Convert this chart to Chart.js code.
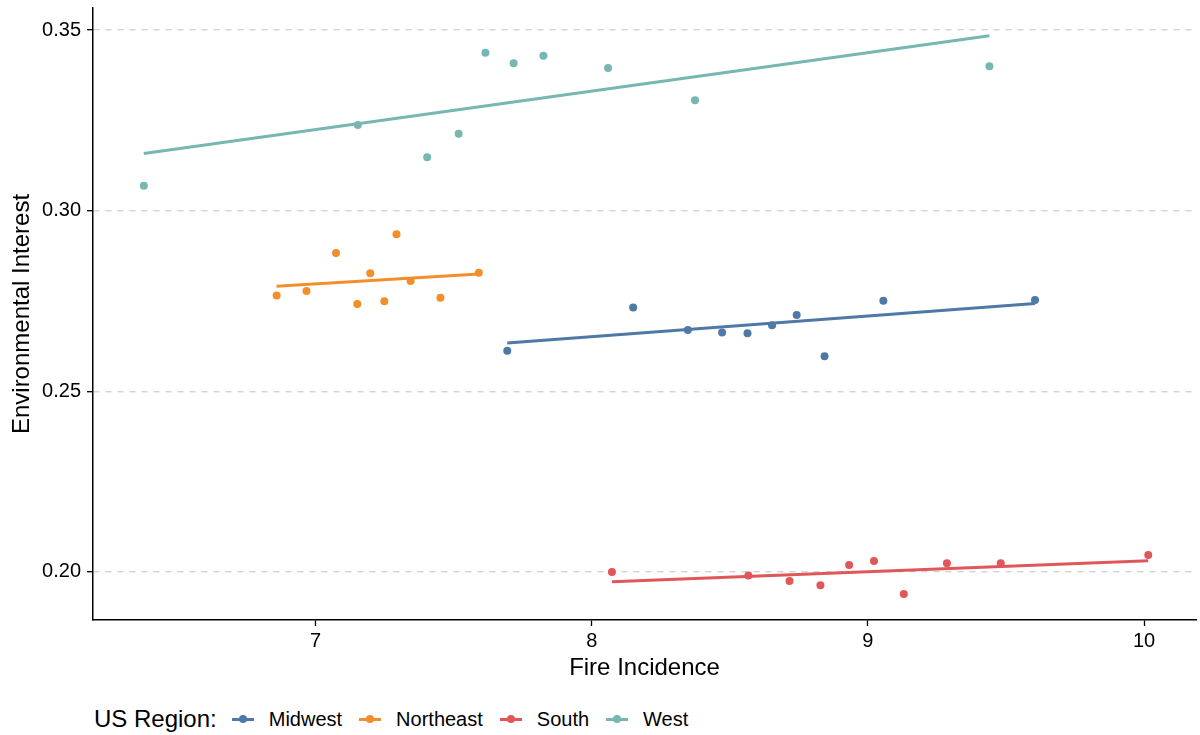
<!DOCTYPE html>
<html>
<head>
<meta charset="utf-8">
<script src="https://cdn.jsdelivr.net/npm/chart.js@4.4.1/dist/chart.umd.min.js"></script>
<style>
  html, body { margin:0; padding:0; background:#fff; }
  body { width:1200px; height:735px; position:relative; overflow:hidden; font-family:"Liberation Sans", Arial, sans-serif; }
  #wrap { position:absolute; left:0; top:0; width:1200px; height:695px; }
  #legend { position:absolute; left:94px; top:704px; height:30px; display:flex; align-items:center; color:#000; }
  #legend .title { font-size:24px; margin-right:15px; }
  #legend .item { display:flex; align-items:center; margin-right:17px; font-size:20px; }
  #legend .key { position:relative; width:22px; height:3px; margin-right:15px; }
  #legend .key::after { content:''; position:absolute; left:7px; top:-2.5px; width:8px; height:8px; border-radius:50%; background:inherit; }
</style>
</head>
<body>
<div id="wrap"><canvas id="chart"></canvas></div>
<div id="legend"></div>
<script>
// ---- data ----
const regions = ['Midwest', 'Northeast', 'South', 'West'];
const colors = ['#4E79A7', '#F28E2B', '#E15759', '#76B7B2'];

const midwestX = [7.694, 8.150, 8.348, 8.472, 8.564, 8.653, 8.742, 8.843, 9.056, 9.605];
const midwestY = [0.2612, 0.2732, 0.2670, 0.2663, 0.2661, 0.2683, 0.2711, 0.2597, 0.2751, 0.2753];
const midwestFitX = [7.694, 9.605];
const midwestFitY = [0.2634, 0.2743];

const northeastX = [6.859, 6.967, 7.074, 7.151, 7.198, 7.249, 7.293, 7.344, 7.452, 7.591];
const northeastY = [0.2765, 0.2778, 0.2883, 0.2742, 0.2827, 0.2749, 0.2935, 0.2805, 0.2759, 0.2828];
const northeastFitX = [6.859, 7.591];
const northeastFitY = [0.2791, 0.2825];

const southX = [8.073, 8.567, 8.716, 8.828, 8.932, 9.022, 9.130, 9.286, 9.481, 10.015];
const southY = [0.2000, 0.1990, 0.1975, 0.1963, 0.2019, 0.2030, 0.1939, 0.2024, 0.2024, 0.2047];
const southFitX = [8.073, 10.015];
const southFitY = [0.1973, 0.2031];

const westX = [6.378, 7.153, 7.404, 7.518, 7.615, 7.717, 7.825, 8.059, 8.374, 9.440];
const westY = [0.3069, 0.3237, 0.3148, 0.3213, 0.3437, 0.3408, 0.3429, 0.3395, 0.3306, 0.3400];
const westFitX = [6.378, 9.440];
const westFitY = [0.3158, 0.3484];

const xTicks = [7, 8, 9, 10];
const yTicks = [0.20, 0.25, 0.30, 0.35];

const pointSets = [[midwestX, midwestY], [northeastX, northeastY], [southX, southY], [westX, westY]];
const fitSets = [[midwestFitX, midwestFitY], [northeastFitX, northeastFitY], [southFitX, southFitY], [westFitX, westFitY]];

const zip = (xs, ys) => xs.map((x, i) => ({ x, y: ys[i] }));

/* ---------- datasets ---------- */
const datasets = [];
regions.forEach((r, i) => {
  datasets.push({
    label: r + ' fit',
    data: zip(fitSets[i][0], fitSets[i][1]),
    showLine: true,
    borderColor: colors[i],
    borderWidth: 3,
    pointRadius: 0,
    order: 0
  });
  datasets.push({
    label: r,
    data: zip(pointSets[i][0], pointSets[i][1]),
    backgroundColor: colors[i],
    borderColor: colors[i],
    borderWidth: 0,
    pointRadius: 4,
    order: 1
  });
});

const FONT = "'Liberation Sans', Arial, sans-serif";

new Chart(document.getElementById('chart'), {
  type: 'scatter',
  data: { datasets },
  options: {
    responsive: true,
    maintainAspectRatio: false,
    animation: false,
    events: [],
    layout: { padding: { left: 0, top: 8, right: 2, bottom: 0 } },
    plugins: { legend: { display: false }, tooltip: { enabled: false } },
    scales: {
      x: {
        type: 'linear',
        min: 6.194, max: 10.188,
        afterFit: s => { s.height = 75; s.paddingLeft = 0; s.paddingRight = 0; },
        afterBuildTicks: s => { s.ticks = xTicks.map(v => ({ value: v })); },
        grid: { drawOnChartArea: false, drawTicks: true, tickLength: 6, tickColor: '#000', tickWidth: 1.3 },
        border: { display: true, color: '#000', width: 1.5 },
        ticks: { color: '#000', padding: 3, font: { family: FONT, size: 20 }, maxRotation: 0, callback: v => String(v) },
        title: { display: true, text: 'Fire Incidence', color: '#000', font: { family: FONT, size: 24 }, padding: { top: 0, bottom: 12 } }
      },
      y: {
        type: 'linear',
        min: 0.1867, max: 0.3561,
        afterFit: s => { s.width = 93; s.paddingTop = 0; s.paddingBottom = 0; },
        afterBuildTicks: s => { s.ticks = yTicks.map(v => ({ value: v })); },
        grid: { color: '#d3d3d3', lineWidth: 1.4, drawTicks: true, tickLength: 6, tickColor: '#000', tickWidth: 1.3 },
        border: { display: true, color: '#000', width: 1.5, dash: [6, 6] },
        ticks: { color: '#000', padding: 6, font: { family: FONT, size: 20 }, callback: v => v.toFixed(2) },
        title: { display: true, text: 'Environmental Interest', color: '#000', font: { family: FONT, size: 24 }, padding: { top: 8, bottom: 0 } }
      }
    }
  }
});

/* ---------- legend ---------- */
const legend = document.getElementById('legend');
legend.innerHTML = '<span class="title">US Region:</span>' +
  regions.map((r, i) => `<span class="item"><span class="key" style="background:${colors[i]}"></span>${r}</span>`).join('');
</script>
</body>
</html>
